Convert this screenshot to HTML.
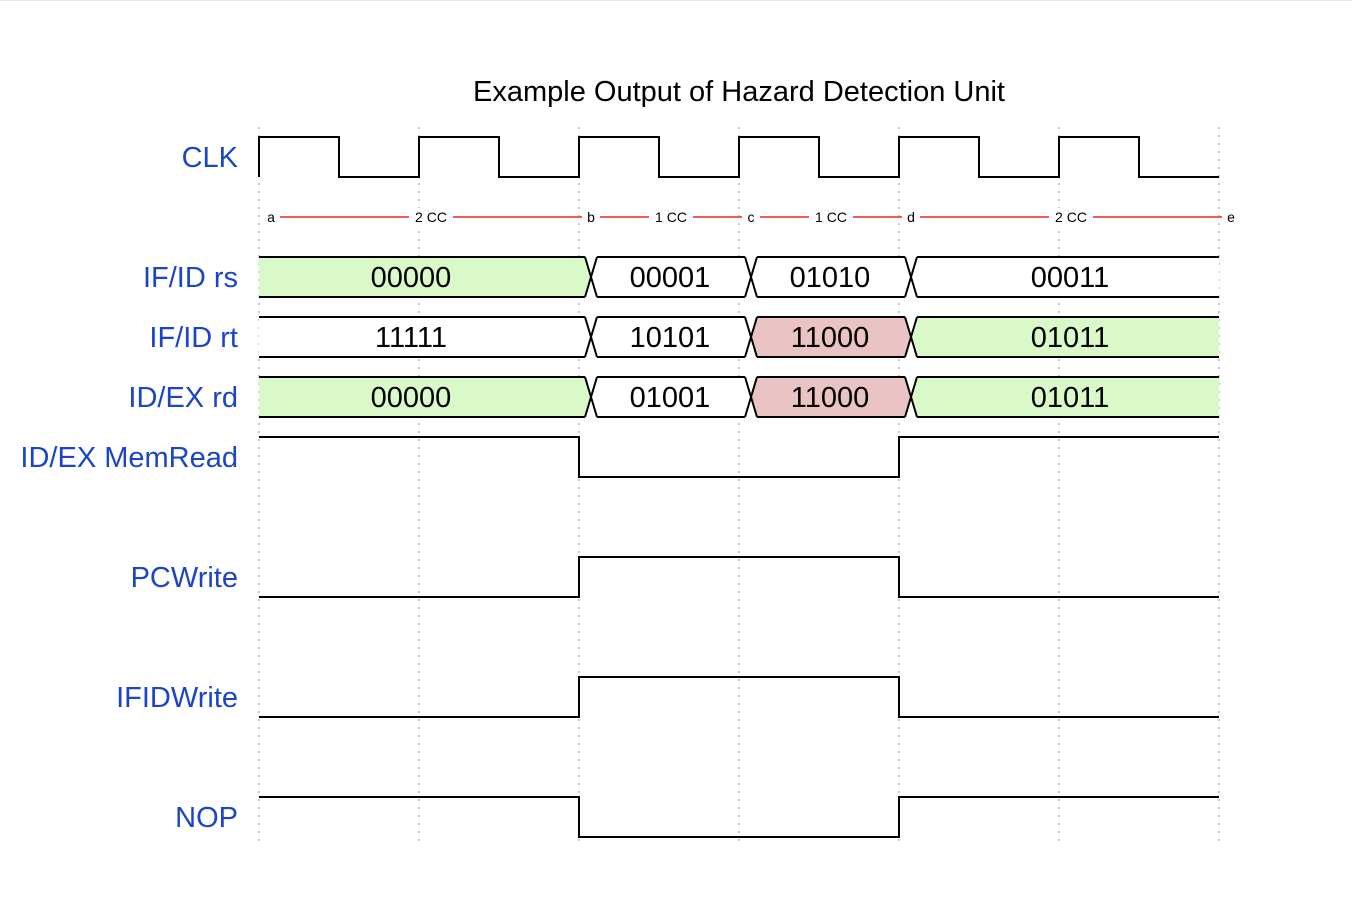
<!DOCTYPE html>
<html><head><meta charset="utf-8"><style>
html,body{margin:0;padding:0;background:#fff;}
svg{display:block;font-family:"Liberation Sans",Arial,sans-serif;}
</style></head><body>
<svg id="chart" width="1352" height="914" viewBox="0 0 1352 914">
<rect x="0" y="0" width="1352" height="914" fill="#fff"/>
<line x1="0" y1="0.5" x2="1352" y2="0.5" stroke="#e6e6e6"/>
<text x="739" y="101" text-anchor="middle" font-size="29" fill="#000">Example Output of Hazard Detection Unit</text>
<g id="grid"></g><g id="waves"></g>
</svg>
<script>
const NS='http://www.w3.org/2000/svg';
const signalNames=['CLK','','IF/ID rs','IF/ID rt','ID/EX rd','ID/EX MemRead','','PCWrite','','IFIDWrite','','NOP'];
const clkWave=[1,0,1,0,1,0,1,0,1,0,1,0]; // half-periods
const busBoundaries=[0,2,3,4,6]; // in cycles
const rsValues=['00000','00001','01010','00011'];
const rsColors=['g','w','w','w'];
const rtValues=['11111','10101','11000','01011'];
const rtColors=['w','w','r','g'];
const rdValues=['00000','01001','11000','01011'];
const rdColors=['g','w','r','g'];
const memReadLevels=[1,1,0,0,1,1];
const pcWriteLevels=[0,0,1,1,0,0];
const ifidWriteLevels=[0,0,1,1,0,0];
const nopLevels=[1,1,0,0,1,1];
const edgeNodes=['a','b','c','d','e'];
const edgeLabels=['2 CC','1 CC','1 CC','2 CC'];

const X0=259, CYC=160, ROW0=137, RH=60, HH=40, SHIFT=12;
const xAt=c=>X0+c*CYC;
const yRow=i=>ROW0+i*RH;
const colorMap={g:'#d9f9c9',r:'#eac4c4',w:'#fff'};
const grid=document.getElementById('grid'), waves=document.getElementById('waves');
function el(tag,attrs,parent,text){const e=document.createElementNS(NS,tag);for(const k in attrs)e.setAttribute(k,attrs[k]);if(text!==undefined)e.textContent=text;parent.appendChild(e);return e;}

for(let c=0;c<=6;c++){
  const g=el('line',{x1:xAt(c),y1:127,x2:xAt(c),y2:842,stroke:'#bbb','stroke-width':1.5,'stroke-dasharray':'2,6'},grid);
  
  
}
signalNames.forEach((n,i)=>{ if(!n)return;
  const t=el('text',{x:238,y:yRow(i)+30,'text-anchor':'end','font-size':29,fill:'#1b45c8'},waves,n);
  
  
});
// clock
{let d='',y0=yRow(0);clkWave.forEach((v,k)=>{const x1=xAt(k/2),x2=xAt((k+1)/2),y=v?y0:y0+HH;d+=(k===0?'M'+x1+','+(y0+HH)+' L'+x1+','+y:' L'+x1+','+y)+' L'+x2+','+y;});
const p=el('path',{d:d,fill:'none',stroke:'#000','stroke-width':2},waves);

}
// edges row
{const y=217;edgeNodes.forEach((n,i)=>{const x=xAt(busBoundaries[i])+12;
const t=el('text',{x:x,y:y+5,'text-anchor':'middle','font-size':14,fill:'#000'},waves,n);

});
edgeLabels.forEach((l,i)=>{const xa=xAt(busBoundaries[i])+12+9,xb=xAt(busBoundaries[i+1])+12-9,xm=(xa+xb)/2;
const ln=el('line',{x1:xa,y1:y,x2:xb,y2:y,stroke:'#e8281e','stroke-width':1.5},waves);


el('rect',{x:xm-22,y:y-9,width:44,height:18,fill:'#fff'},waves);
const t=el('text',{x:xm,y:y+5,'text-anchor':'middle','font-size':14,fill:'#000'},waves,l);

});}
// buses
function bus(row,vals,cols,name){const y0=yRow(row),y1=y0+HH,ym=y0+HH/2;
 vals.forEach((v,i)=>{const first=i===0,last=i===vals.length-1;
  let xa=xAt(busBoundaries[i])+(first?0:SHIFT),xb=xAt(busBoundaries[i+1])+(last?0:SHIFT);
  const la=first?0:6, rb=last?0:6;
  const pts=[[xa+la,y0],[xb-rb,y0],[xb,ym],[xb-rb,y1],[xa+la,y1],[xa,ym]];
  const p=el('polygon',{points:pts.map(q=>q.join(',')).join(' '),fill:colorMap[cols[i]],stroke:'none'},waves);
  
  
  let d=`M${xa+la},${y0} L${xb-rb},${y0} M${xa+la},${y1} L${xb-rb},${y1}`;
  if(!first)d+=` M${xa},${ym} L${xa+la},${y0} M${xa},${ym} L${xa+la},${y1}`;
  if(!last)d+=` M${xb-rb},${y0} L${xb},${ym} M${xb-rb},${y1} L${xb},${ym}`;
  el('path',{d:d,fill:'none',stroke:'#000','stroke-width':2},waves);
  const cx=xAt((busBoundaries[i]+busBoundaries[i+1])/2)+(first?-8:11);
  const t=el('text',{x:cx,y:ym+10,'text-anchor':'middle','font-size':29,fill:'#000'},waves,v);
  
  
 });}
bus(2,rsValues,rsColors,'ifid-rs');bus(3,rtValues,rtColors,'ifid-rt');bus(4,rdValues,rdColors,'idex-rd');
function digital(row,levels,name){const y0=yRow(row);let d='';
 levels.forEach((v,k)=>{const x1=xAt(k),x2=xAt(k+1),y=v?y0:y0+HH;d+=(k===0?'M':' L')+x1+','+y+' L'+x2+','+y;});
 const p=el('path',{d:d,fill:'none',stroke:'#000','stroke-width':2},waves);
 
 }
digital(5,memReadLevels,'memread-wave');digital(7,pcWriteLevels,'pcwrite-wave');
digital(9,ifidWriteLevels,'ifidwrite-wave');digital(11,nopLevels,'nop-wave');
</script>
</body></html>
